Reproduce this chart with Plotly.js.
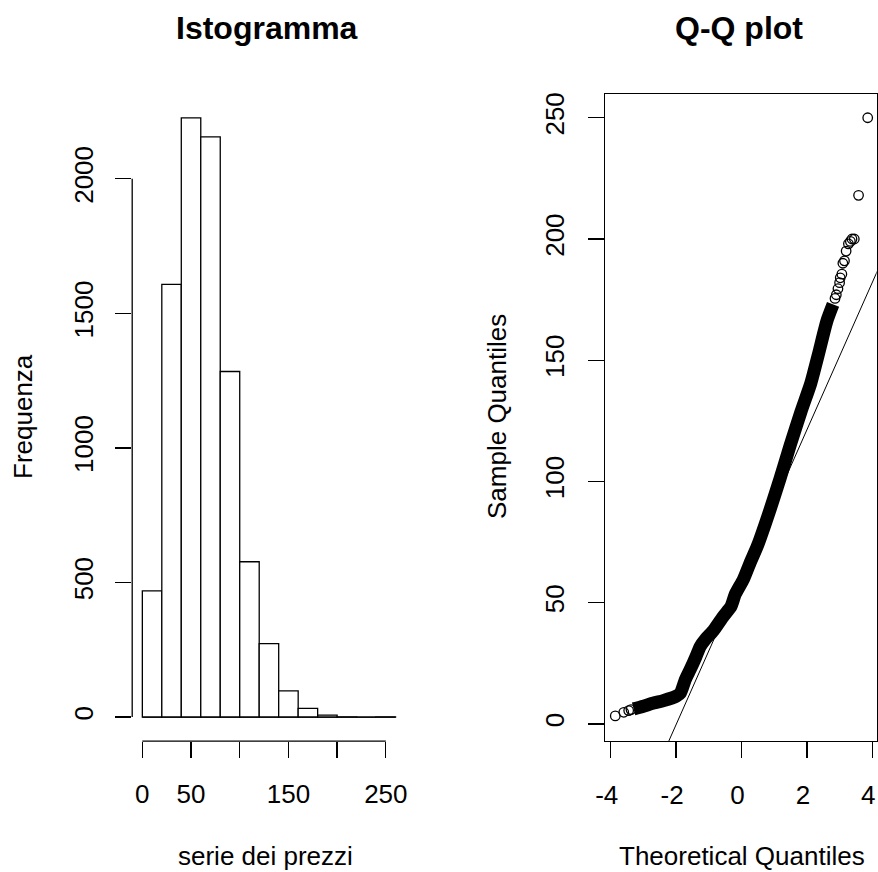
<!DOCTYPE html>
<html>
<head>
<meta charset="utf-8">
<script src="https://cdn.plot.ly/plotly-3.0.1.min.js"></script>
<style>html,body{margin:0;padding:0;background:#fff;}#chart{width:878px;height:872px;}</style>
</head>
<body>
<div id="chart"></div>
<script>
// ---- Histogram data ----
const histBinEdges = [0, 20, 40, 60, 80, 100, 120, 140, 160, 180, 200, 220, 240, 260];
const histCounts   = [469, 1608, 2226, 2156, 1284, 577, 273, 97, 32, 7, 1, 0, 1];
const histXTicks = [0, 50, 100, 150, 200, 250];
const histXTickText = ['0', '50', '', '150', '', '250'];
const histYTicks = [0, 500, 1000, 1500, 2000];

// ---- Q-Q plot data ----
// dense band of points
const qqBandTheo   = [-3.30, -3.00, -2.69, -2.40, -2.13, -2.00, -1.87, -1.72, -1.57, -1.40, -1.26, -1.10, -0.86, -0.55, -0.32, -0.19, 0.06, 0.25, 0.49, 0.85, 1.18, 1.49, 1.82, 2.12, 2.35, 2.61, 2.80];
const qqBandSample = [6.2, 7.3, 8.6, 9.6, 10.7, 11.4, 12.7, 18.2, 22.4, 27.5, 32.0, 35.0, 38.5, 44.5, 48.5, 53.5, 59.7, 66.0, 73.5, 87.4, 101.2, 115.0, 128.8, 140.5, 152.3, 166.1, 173.0];
// sparse points in the tails
const qqTailTheo   = [-3.86, -3.60, -3.45, -3.38, 2.86, 2.90, 2.95, 3.00, 3.02, 3.07, 3.10, 3.15, 3.20, 3.27, 3.33, 3.38, 3.45, 3.58, 3.86];
const qqTailSample = [3.3, 4.8, 5.5, 5.9, 175.5, 177, 179.5, 182, 184, 185.5, 190, 191, 195, 198, 199, 200, 200, 218, 250];
const qqSampleQuartiles = [40, 81];
const qqXTicks = [-4, -2, 0, 2, 4];
const qqYTicks = [0, 50, 100, 150, 200, 250];

// ---- derived ----
const binCenters = histCounts.map((_, i) => (histBinEdges[i] + histBinEdges[i + 1]) / 2);
const binWidths = histCounts.map((_, i) => histBinEdges[i + 1] - histBinEdges[i]);
const zq = 0.6744898; // normal quartile
const qqSlope = (qqSampleQuartiles[1] - qqSampleQuartiles[0]) / (2 * zq);
const qqIntercept = qqSampleQuartiles[0] + zq * qqSlope;
const lineX = [-6, 6];
const lineY = lineX.map(x => qqIntercept + qqSlope * x);

const FONT = '"Liberation Sans", Arial, sans-serif';
const LW = 1.3;

const traces = [
  {
    type: 'bar', x: binCenters, y: histCounts, width: binWidths,
    marker: {color: '#ffffff', line: {color: '#000000', width: LW}},
    xaxis: 'x', yaxis: 'y', hoverinfo: 'skip', showlegend: false
  },
  {
    type: 'scatter', mode: 'lines',
    x: [histBinEdges[0], histBinEdges[histBinEdges.length - 1]], y: [0, 0],
    line: {color: '#000000', width: LW}, xaxis: 'x', yaxis: 'y', hoverinfo: 'skip', showlegend: false
  },
  {
    type: 'scatter', mode: 'lines', x: lineX, y: lineY,
    line: {color: '#000000', width: 1}, xaxis: 'x2', yaxis: 'y2', hoverinfo: 'skip', showlegend: false
  },
  {
    type: 'scatter', mode: 'lines', x: qqBandTheo, y: qqBandSample,
    line: {color: '#000000', width: 13, shape: 'spline', smoothing: 0.6},
    xaxis: 'x2', yaxis: 'y2', hoverinfo: 'skip', showlegend: false
  },
  {
    type: 'scatter', mode: 'markers', x: qqTailTheo, y: qqTailSample,
    marker: {symbol: 'circle-open', size: 9.5, color: '#000000', line: {width: 1.3, color: '#000000'}},
    xaxis: 'x2', yaxis: 'y2', hoverinfo: 'skip', showlegend: false, cliponaxis: false
  }
];

const tickFont = {family: FONT, size: 26, color: '#000000'};
const yDom = [0.1502, 0.8922];

const layout = {
  width: 878, height: 872,
  margin: {l: 0, r: 0, t: 0, b: 0},
  paper_bgcolor: '#ffffff', plot_bgcolor: '#ffffff',
  showlegend: false,
  font: {family: FONT, color: '#000000'},
  bargap: 0,
  xaxis: {
    domain: [0.15057, 0.46207], range: [-10.4, 270.4],
    tickmode: 'array', tickvals: histXTicks, ticktext: histXTickText,
    ticks: 'outside', ticklen: 16, tickwidth: LW, tickcolor: '#000',
    showline: false, showgrid: false, zeroline: false,
    tickfont: tickFont, ticklabelstandoff: 14, ticklabeloverflow: 'allow', fixedrange: true
  },
  yaxis: {
    domain: yDom, range: [-89.04, 2315.04],
    tickmode: 'array', tickvals: histYTicks, ticktext: histYTicks.map(String),
    ticks: 'outside', ticklen: 16, tickwidth: LW, tickcolor: '#000', tickangle: -90,
    showline: false, showgrid: false, zeroline: false,
    tickfont: tickFont, ticklabelstandoff: 12, ticklabeloverflow: 'allow', fixedrange: true
  },
  xaxis2: {
    domain: [0.68941, 0.99852], range: [-4.165, 4.135], anchor: 'y2',
    tickmode: 'array', tickvals: qqXTicks, ticktext: qqXTicks.map(String),
    ticks: 'outside', ticklen: 16, tickwidth: LW, tickcolor: '#000',
    showline: true, mirror: true, linecolor: '#000', linewidth: LW,
    showgrid: false, zeroline: false,
    tickfont: tickFont, ticklabelstandoff: 14, ticklabelshift: -4, ticklabeloverflow: 'allow', fixedrange: true
  },
  yaxis2: {
    domain: yDom, range: [-7.05, 259.8], anchor: 'x2',
    tickmode: 'array', tickvals: qqYTicks, ticktext: qqYTicks.map(String),
    ticks: 'outside', ticklen: 16, tickwidth: LW, tickcolor: '#000', tickangle: -90,
    showline: true, mirror: true, linecolor: '#000', linewidth: LW,
    showgrid: false, zeroline: false,
    tickfont: tickFont, ticklabelstandoff: 14, ticklabeloverflow: 'allow', fixedrange: true
  },
  shapes: [
    {type: 'line', xref: 'x', yref: 'y domain', x0: histXTicks[0], x1: histXTicks[histXTicks.length - 1], y0: 0, y1: 0,
     line: {color: '#000', width: LW}},
    {type: 'line', xref: 'x domain', yref: 'y', x0: 0, x1: 0, y0: histYTicks[0], y1: histYTicks[histYTicks.length - 1],
     line: {color: '#000', width: LW}}
  ],
  annotations: [
    {text: 'Istogramma', xref: 'paper', yref: 'paper', x: 0.3037, y: 1 - 28 / 872, xanchor: 'center', yanchor: 'middle',
     showarrow: false, font: {family: FONT, size: 32, color: '#000', weight: 'bold'}},
    {text: 'Q-Q plot', xref: 'paper', yref: 'paper', x: 0.8417, y: 1 - 28 / 872, xanchor: 'center', yanchor: 'middle',
     showarrow: false, font: {family: FONT, size: 32, color: '#000', weight: 'bold'}},
    {text: 'serie dei prezzi', xref: 'paper', yref: 'paper', x: 265 / 878, y: 1 - 856 / 872, xanchor: 'center', yanchor: 'middle',
     showarrow: false, font: {family: FONT, size: 26, color: '#000'}},
    {text: 'Theoretical Quantiles', xref: 'paper', yref: 'paper', x: 741.7 / 878, y: 1 - 856 / 872, xanchor: 'center', yanchor: 'middle',
     showarrow: false, font: {family: FONT, size: 26, color: '#000'}},
    {text: 'Frequenza', xref: 'paper', yref: 'paper', x: 23 / 878, y: 1 - 417 / 872, xanchor: 'center', yanchor: 'middle',
     textangle: -90, showarrow: false, font: {family: FONT, size: 26, color: '#000'}},
    {text: 'Sample Quantiles', xref: 'paper', yref: 'paper', x: 497 / 878, y: 1 - 417 / 872, xanchor: 'center', yanchor: 'middle',
     textangle: -90, showarrow: false, font: {family: FONT, size: 26, color: '#000'}}
  ]
};

Plotly.newPlot('chart', traces, layout, {staticPlot: true, displayModeBar: false});
</script>
</body>
</html>
